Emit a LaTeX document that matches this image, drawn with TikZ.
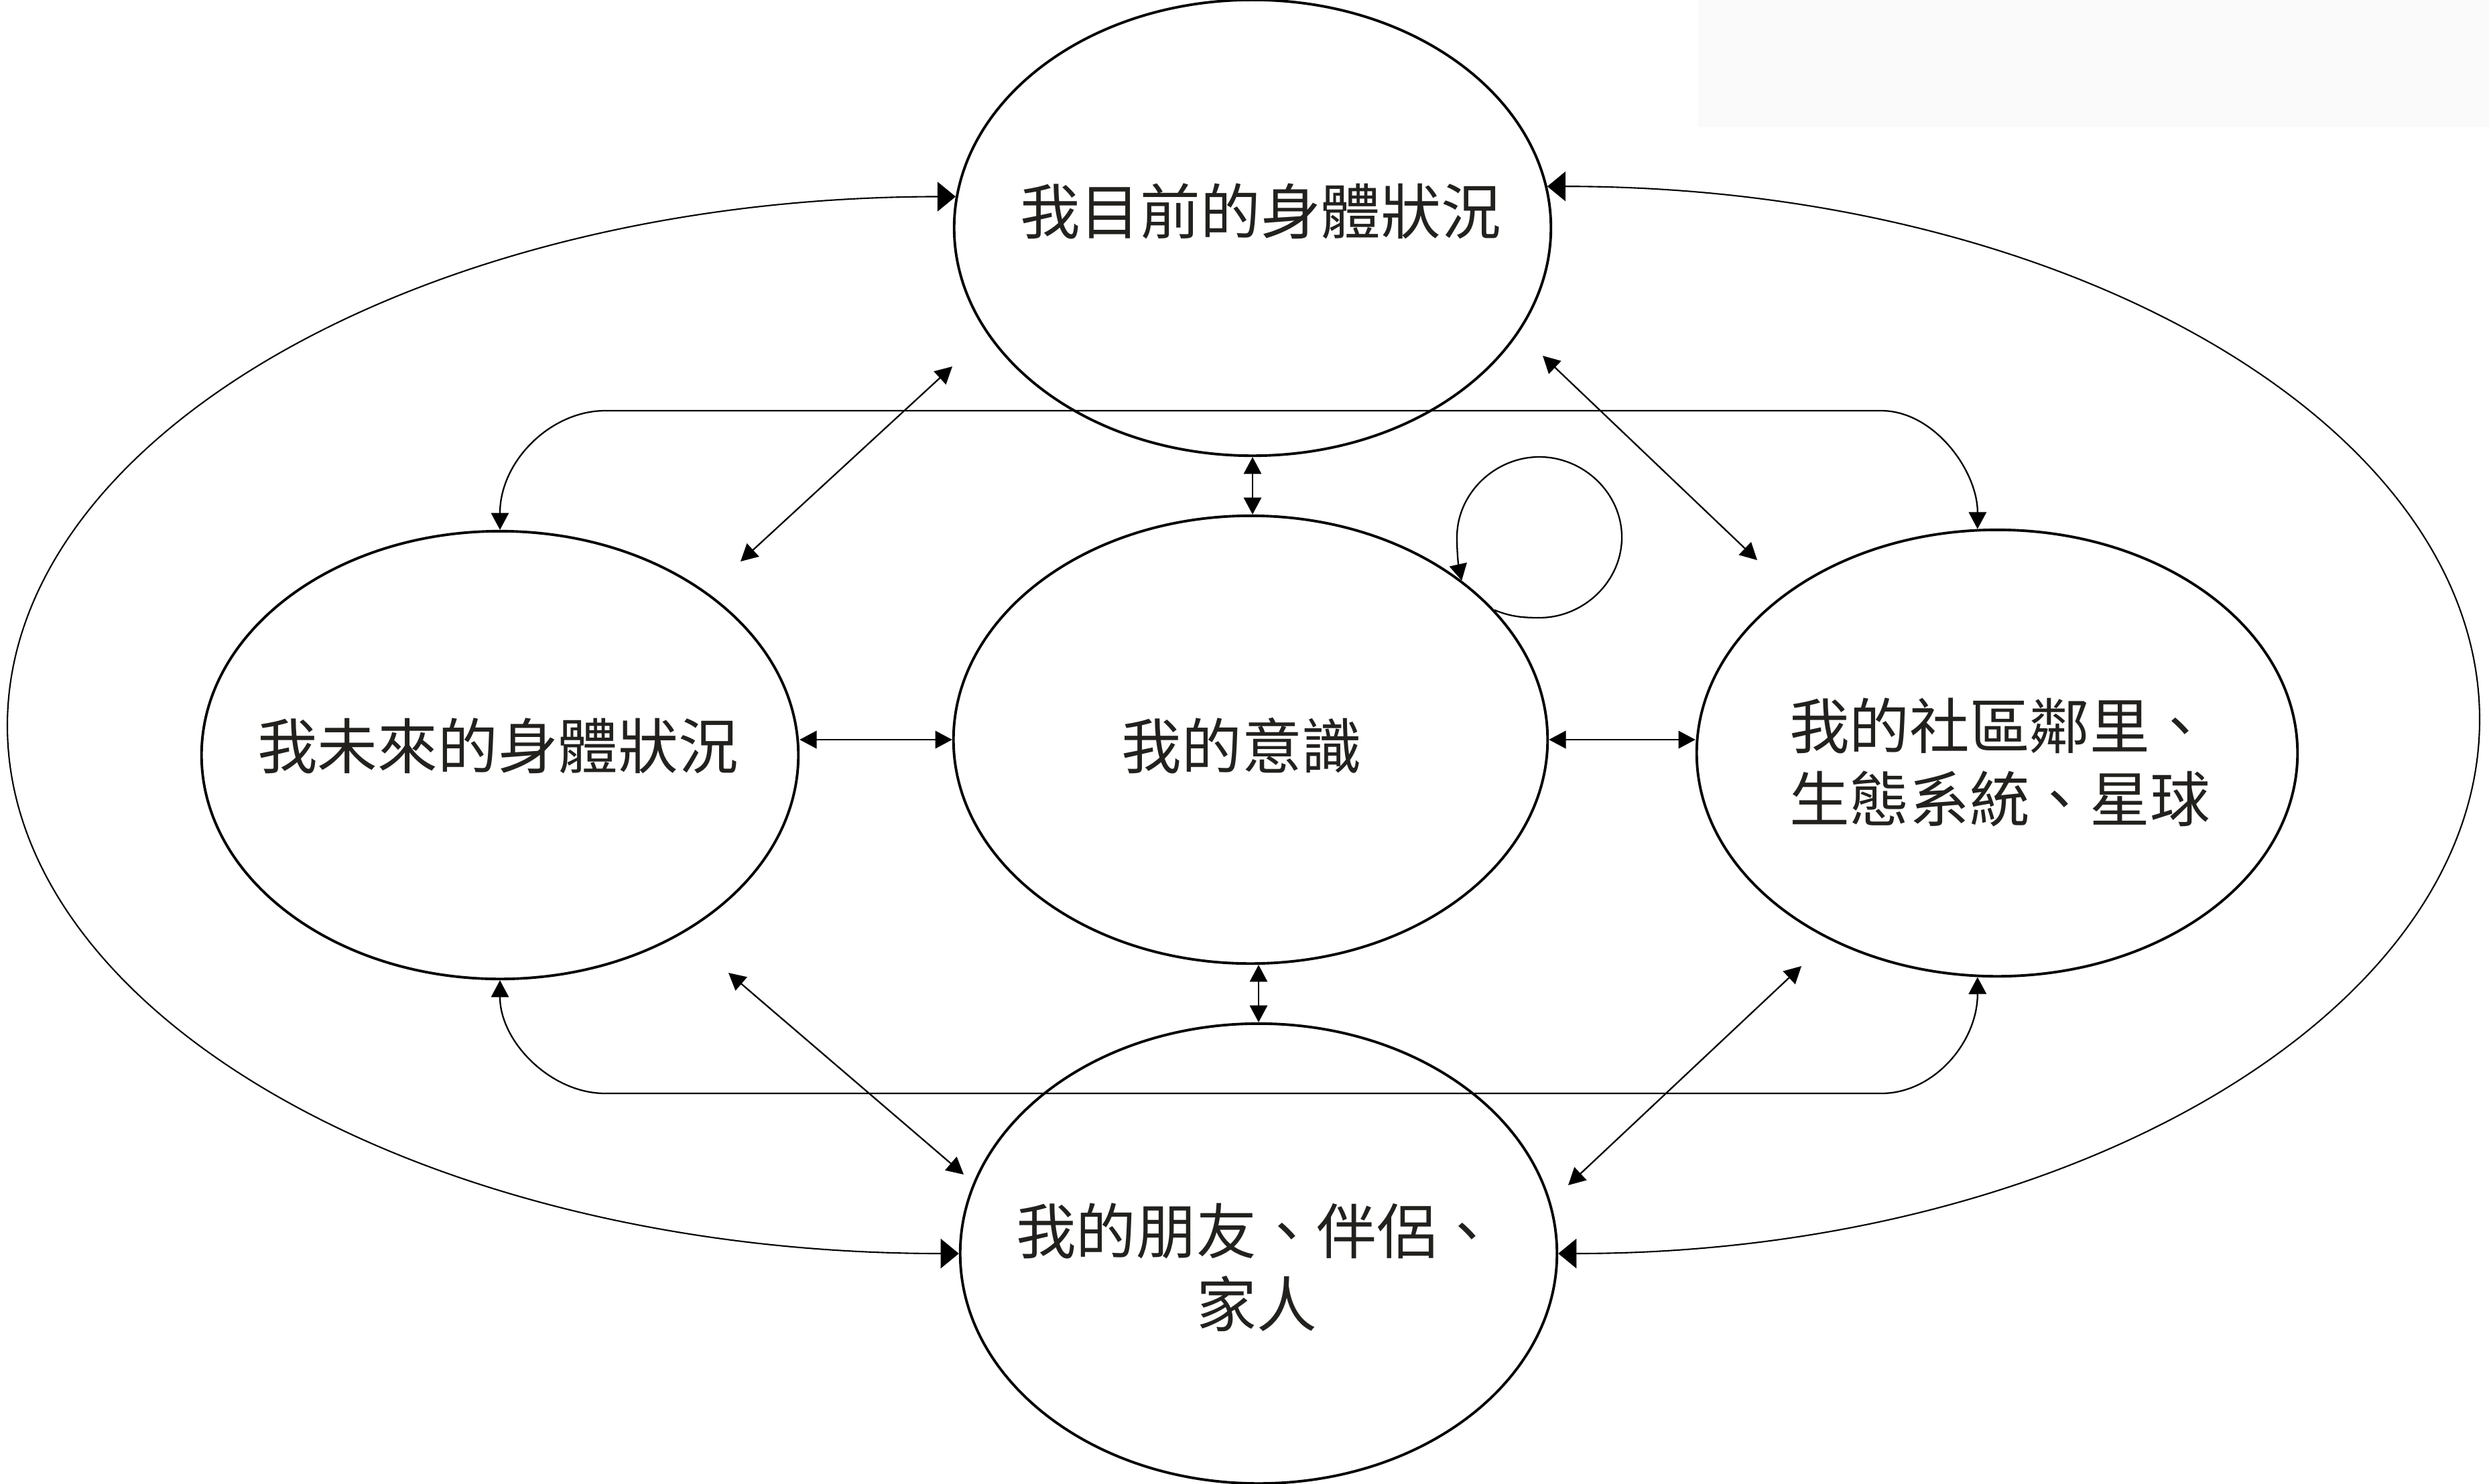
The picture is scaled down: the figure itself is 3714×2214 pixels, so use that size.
\documentclass[tikz,border=0pt]{standalone}
\usepackage{fontspec}
\newfontfamily\cjk{Noto Sans CJK TC}
\usetikzlibrary{arrows.meta,calc,shapes.geometric}
\definecolor{txtcol}{RGB}{35,33,30}
\definecolor{boxgray}{RGB}{250,250,250}
\tikzset{
  ell/.style={draw, ellipse, line width=1.1pt, inner sep=0pt},
  lbl/.style={font=\cjk\fontsize{25.5pt}{31pt}\selectfont, text=txtcol, align=center, inner sep=0pt},
  link/.style={line width=0.65pt, {Triangle[length=7.2pt,width=7.5pt]}-{Triangle[length=7.2pt,width=7.5pt]}},
  outerarc/.style={line width=0.6pt, {Triangle[length=7.7pt,width=12.5pt]}-{Triangle[length=7.7pt,width=12.5pt]}},
  selfloop/.style={line width=0.65pt, -{Triangle[length=7pt,width=7.5pt]}}
}
\begin{document}
\begin{tikzpicture}[x=0.01cm, y=-0.01cm]
\useasboundingbox (0,0) rectangle (3714,2214);
\fill[white] (0,0) rectangle (3714,2214);
\fill[boxgray] (2534,0) rectangle (3714,190);

% ellipses
\node[ell, minimum width=8.9cm, minimum height=6.8cm] (T) at (1869,340) {};
\node[ell, minimum width=8.9cm, minimum height=6.68cm] (L) at (746,1127) {};
\node[ell, minimum width=8.86cm, minimum height=6.68cm] (C) at (1866,1104) {};
\node[ell, minimum width=8.96cm, minimum height=6.66cm] (R) at (2980,1124) {};
\node[ell, minimum width=8.9cm, minimum height=6.86cm] (B) at (1878,1871) {};

% labels
\node[lbl] (tT) at (1881,315) {我目前的身體狀況};
\node[lbl] (tL) at (743,1113) {我未來的身體狀況};
\node[lbl] (tC) at (1853,1113) {我的意識};
\node[lbl] (tR) at (2984,1138) {我的社區鄰里、\\生態系統、星球};
\node[lbl] (tB) at (1875,1892) {我的朋友、伴侶、\\家人};

% outer arcs
\coordinate (lm) at (11,1083);
\coordinate (rm) at (3700,1074);
\draw[outerarc] (T.174) .. controls (637,294) and (11,649) .. (lm)
  .. controls (11,1517) and (637,1871) .. (B.west);
\draw[outerarc] (T.8) .. controls (3082,278) and (3700,634) .. (rm)
  .. controls (3700,1514) and (3082,1871) .. (B.east);

% inner rounded connectors
\coordinate (itl) at (903,613); \coordinate (itr) at (2807,613);
\coordinate (ibl) at (903,1632); \coordinate (ibr) at (2807,1632);
\draw[link] (L.north) .. controls (746,688) and (822,613) .. (itl) -- (itr)
  .. controls (2886,613) and (2951,703) .. (R.95);
\draw[link] (L.south) .. controls (746,1555) and (822,1632) .. (ibl) -- (ibr)
  .. controls (2886,1632) and (2951,1555) .. (R.265);

% diagonal connectors
\coordinate (d1) at (1421,547); \coordinate (d2) at (1105,838);
\coordinate (d3) at (2302,531); \coordinate (d4) at (2622,836);
\coordinate (d5) at (1087,1452); \coordinate (d6) at (1438,1753);
\coordinate (d7) at (2688,1442); \coordinate (d8) at (2340,1769);
\draw[link] (d1) -- (d2);
\draw[link] (d3) -- (d4);
\draw[link] (d5) -- (d6);
\draw[link] (d7) -- (d8);

% short connectors
\draw[link] (T.south) -- (T.south |- C.north);
\draw[link] (C.south -| B.north) -- (B.north);
\draw[link] (C.west -| L.east) -- (C.west);
\draw[link] (C.east) -- (C.east -| R.west);

% self loop
\draw[selfloop] (C.28) .. controls (2255,921) and (2275,922) .. (2297,922)
  .. controls (2363,922) and (2420,868) .. (2420,802)
  .. controls (2420,736) and (2363,682) .. (2297,682)
  .. controls (2231,682) and (2174,736) .. (2174,802)
  .. controls (2174,830) and (2177,848) .. (C.37);
\end{tikzpicture}
\end{document}
